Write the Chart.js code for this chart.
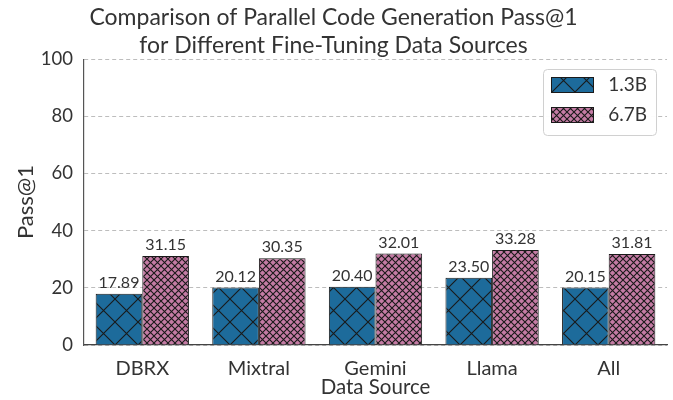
<!DOCTYPE html>
<html>
<head>
<meta charset="utf-8">
<script src="https://cdn.jsdelivr.net/npm/chart.js@4/dist/chart.umd.min.js"></script>
<style>
html,body{margin:0;padding:0;background:#fff;}
#wrap{width:673px;height:400px;position:relative;}
</style>
</head>
<body>
<div id="wrap"><canvas id="c" width="673" height="400"></canvas></div>
<script>
const categories = ["DBRX", "Mixtral", "Gemini", "Llama", "All"];
const series13B = [17.89, 20.12, 20.40, 23.50, 20.15];
const series67B = [31.15, 30.35, 32.01, 33.28, 31.81];
const seriesLabels = ["1.3B", "6.7B"];
const yTicks = [0, 20, 40, 60, 80, 100];
const titleLines = ["Comparison of Parallel Code Generation Pass@1", "for Different Fine-Tuning Data Sources"];
const xTitle = "Data Source";
const yTitle = "Pass@1";

const FONT = "Lato, 'DejaVu Sans', sans-serif";
const TXT = "#333333";

function makePattern(bg, size, lw) {
  const c = document.createElement("canvas");
  c.width = size; c.height = size;
  const g = c.getContext("2d");
  g.fillStyle = bg; g.fillRect(0, 0, size, size);
  g.strokeStyle = "#1a1a1a"; g.lineWidth = lw;
  g.beginPath();
  g.moveTo(0, 0); g.lineTo(size, size);
  g.moveTo(size, 0); g.lineTo(0, size);
  g.stroke();
  return g.createPattern(c, "repeat");
}
const ctx = document.getElementById("c").getContext("2d");
const patBlue = makePattern("#1d6b9b", 23, 1.1);
const patPink = makePattern("#c47ba4", 7, 1.1);

const valueLabels = {
  id: "valueLabels",
  afterDatasetsDraw(chart) {
    const c = chart.ctx;
    c.save();
    c.font = "16px " + FONT;
    c.fillStyle = TXT;
    c.textAlign = "center";
    c.textBaseline = "bottom";
    chart.data.datasets.forEach((ds, i) => {
      chart.getDatasetMeta(i).data.forEach((bar, j) => {
        c.fillText(ds.data[j].toFixed(2), bar.x, bar.y - 3);
      });
    });
    c.restore();
  }
};

const boxLegend = {
  id: "boxLegend",
  afterDraw(chart) {
    const c = chart.ctx;
    const x0 = 543, y0 = 69, w = 113, h = 66;
    c.save();
    c.fillStyle = "rgba(255,255,255,0.95)";
    c.strokeStyle = "#d0d0d0";
    c.lineWidth = 1;
    c.beginPath();
    c.roundRect(x0 + 0.5, y0 + 0.5, w, h, 4);
    c.fill(); c.stroke();
    chart.data.datasets.forEach((ds, i) => {
      const sy = 77 + i * 30;
      c.fillStyle = ds.backgroundColor;
      c.fillRect(551, sy, 43, 16);
      c.strokeStyle = "#1a1a1a";
      c.lineWidth = 1;
      c.strokeRect(551.5, sy + 0.5, 42, 15);
      c.fillStyle = TXT;
      c.font = "19px " + FONT;
      c.textAlign = "right";
      c.textBaseline = "middle";
      c.fillText(ds.label, 647, sy + 8);
    });
    c.restore();
  }
};

new Chart(ctx, {
  type: "bar",
  data: {
    labels: categories,
    datasets: [
      { label: seriesLabels[0], data: series13B, backgroundColor: patBlue, borderColor: "#1a1a1a", borderWidth: 1 },
      { label: seriesLabels[1], data: series67B, backgroundColor: patPink, borderColor: "#1a1a1a", borderWidth: 1 }
    ]
  },
  options: {
    responsive: false,
    animation: false,
    devicePixelRatio: 1,
    layout: { padding: { top: 0, right: 6, bottom: 0, left: 0 } },
    datasets: { bar: { categoryPercentage: 0.8, barPercentage: 1.0 } },
    plugins: {
      legend: { display: false },
      tooltip: { enabled: false },
      title: {
        display: true,
        text: titleLines,
        color: TXT,
        font: { family: FONT, size: 23, weight: "normal", lineHeight: 1.2 },
        padding: { top: 4, bottom: 0 }
      }
    },
    scales: {
      x: {
        grid: { display: false },
        border: { display: true, color: "#444", width: 1.2 },
        ticks: { color: TXT, font: { family: FONT, size: 20 }, padding: 4 },
        title: { display: true, text: xTitle, color: TXT, font: { family: FONT, size: 20.5 }, padding: { top: 1, bottom: 0 } },
        afterFit(s) { s.height = 55; }
      },
      y: {
        min: 0, max: 100,
        afterBuildTicks(s) { s.ticks = yTicks.map(v => ({ value: v })); },
        grid: { color: "#bdbdbd", lineWidth: 1, drawTicks: false },
        border: { display: true, color: "#555", width: 1.2, dash: [4, 3] },
        ticks: { color: TXT, font: { family: FONT, size: 18.5 }, padding: 11 },
        title: { display: true, text: yTitle, color: TXT, font: { family: FONT, size: 22 }, padding: { top: 13, bottom: 0 } },
        afterFit(s) { s.width = 84; }
      }
    }
  },
  plugins: [valueLabels, boxLegend]
});
</script>
</body>
</html>
